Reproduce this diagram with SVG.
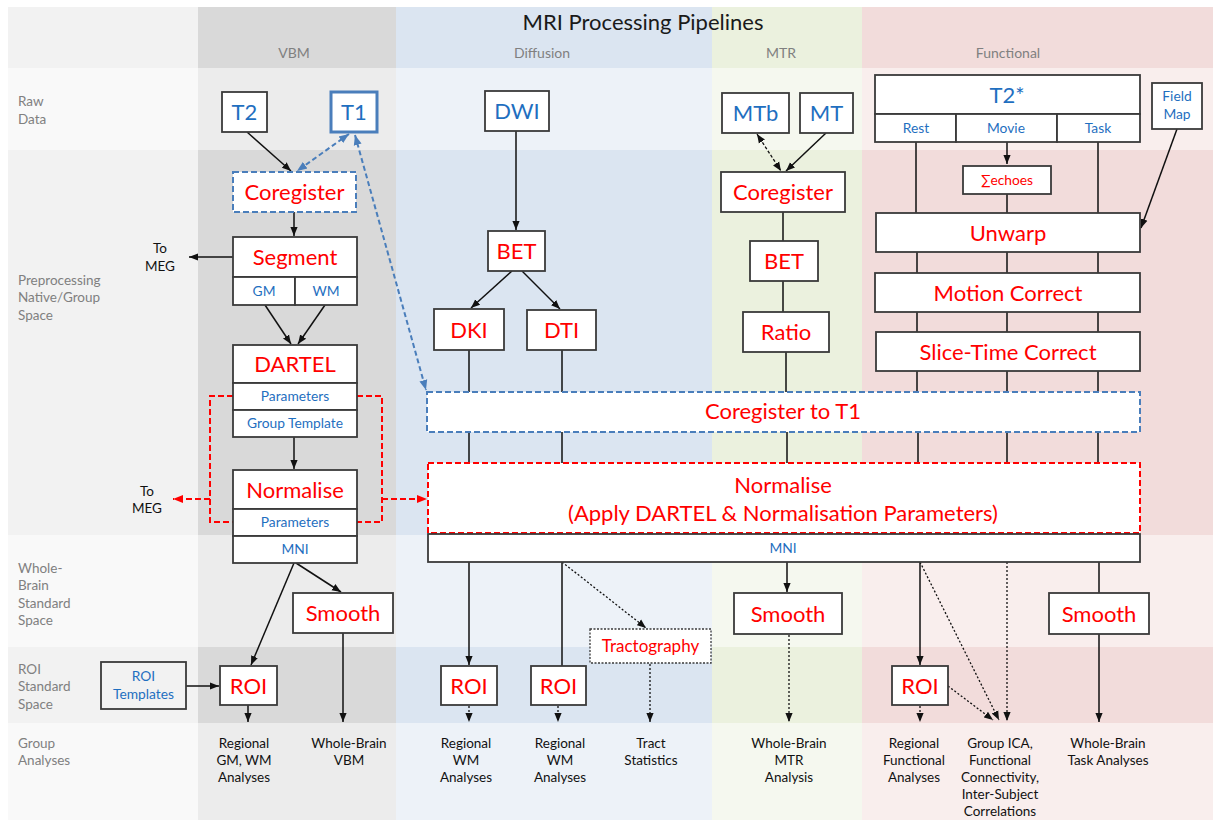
<svg xmlns="http://www.w3.org/2000/svg" width="1213" height="820" viewBox="0 0 1213 820">
<style>
text{font-family:Lato,"Liberation Sans",sans-serif;text-anchor:middle}
.box{fill:#fff;stroke:#3a3a3a;stroke-width:1.8}
.bdash{fill:#fff;stroke:#4a7ebb;stroke-width:2;stroke-dasharray:6 3}
.rdash{fill:#fff;stroke:#ff0000;stroke-width:2;stroke-dasharray:6 3}
.dotbox{fill:#fff;stroke:#3a3a3a;stroke-width:1.3;stroke-dasharray:2 1.5}
.big{font-size:22px;fill:#ff0000}
.bigb{font-size:22px;fill:#1f6fc0}
.sm{font-size:13.8px;fill:#1f6fc0}
.smr{font-size:13.8px;fill:#ff0000}
.ga{font-size:13.5px;fill:#111}
.rl{font-size:13.5px;fill:#808080;text-anchor:start}
.ch{font-size:14px;fill:#808080}
.ln{fill:none;stroke:#111;stroke-width:1.5}
.ar{fill:none;stroke:#111;stroke-width:1.5;marker-end:url(#ak)}
.dt{fill:none;stroke:#111;stroke-width:1.3;stroke-dasharray:2 2;marker-end:url(#ak)}
.lite{fill:#fff;opacity:0.5}
</style>
<defs>
<marker id="ak" viewBox="0 0 10 10" refX="10" refY="5" markerUnits="userSpaceOnUse" markerWidth="9" markerHeight="9" orient="auto-start-reverse"><path d="M0,1 L10,5 L0,9z" fill="#111"/></marker>
<marker id="ab" viewBox="0 0 10 10" refX="10" refY="5" markerUnits="userSpaceOnUse" markerWidth="10" markerHeight="10" orient="auto-start-reverse"><path d="M0,1 L10,5 L0,9z" fill="#4a7ebb"/></marker>
<marker id="ar" viewBox="0 0 10 10" refX="10" refY="5" markerUnits="userSpaceOnUse" markerWidth="10" markerHeight="10" orient="auto-start-reverse"><path d="M0,1 L10,5 L0,9z" fill="#ff0000"/></marker>
</defs>
<rect width="1213" height="820" fill="#fff"/>
<g id="background">
<rect x="8" y="7" width="190" height="813" fill="#f2f2f2"/>
<rect x="198" y="7" width="198" height="813" fill="#d9d9d9"/>
<rect x="396" y="7" width="316" height="813" fill="#dbe5f1"/>
<rect x="712" y="7" width="150" height="813" fill="#ebf1de"/>
<rect x="862" y="7" width="351" height="813" fill="#f2dcdb"/>
<rect class="lite" x="8" y="68" width="1205" height="82"/>
<rect class="lite" x="8" y="535" width="1205" height="112"/>
<rect class="lite" x="8" y="723" width="1205" height="97"/>
</g>
<g id="labels">
<text x="643" y="30" style="font-size:22px;fill:#1a1a1a">MRI Processing Pipelines</text>
<text class="ch" x="294" y="58">VBM</text>
<text class="ch" x="542" y="58">Diffusion</text>
<text class="ch" x="781" y="58">MTR</text>
<text class="ch" x="1008" y="58">Functional</text>
<text class="rl" x="18" y="106">Raw</text>
<text class="rl" x="18" y="123.5">Data</text>
<text class="rl" x="18" y="284.5">Preprocessing</text>
<text class="rl" x="18" y="302">Native/Group</text>
<text class="rl" x="18" y="319.5">Space</text>
<text class="rl" x="18" y="572.5">Whole-</text>
<text class="rl" x="18" y="590">Brain</text>
<text class="rl" x="18" y="607.5">Standard</text>
<text class="rl" x="18" y="625">Space</text>
<text class="rl" x="18" y="673.5">ROI</text>
<text class="rl" x="18" y="691">Standard</text>
<text class="rl" x="18" y="708.5">Space</text>
<text class="rl" x="18" y="747.5">Group</text>
<text class="rl" x="18" y="765">Analyses</text>
<text class="ga" x="160" y="252.5">To</text>
<text class="ga" x="160" y="270.5">MEG</text>
<text class="ga" x="147" y="495.5">To</text>
<text class="ga" x="147" y="512.5">MEG</text>
</g>
<g id="connectors">
<path class="ar" d="M247,132 L291,171"/>
<path class="ar" d="M294,212 L294,236"/>
<path class="ar" d="M233,257 L189,257"/>
<path class="ar" d="M265,305 L291,344"/>
<path class="ar" d="M325,305 L298,344"/>
<path class="ar" d="M294,437 L294,469"/>
<path class="ar" d="M294,563 L251,665"/>
<path class="ar" d="M296,563 L341,592"/>
<path class="ar" d="M186,686 L219,686"/>
<path class="ar" d="M248,705 L248,722"/>
<path class="ar" d="M343,633 L343,722"/>
<path class="ar" d="M516,131 L516,230"/>
<path class="ar" d="M512,271 L471,308"/>
<path class="ar" d="M522,271 L560,309"/>
<path class="ln" d="M469,350 V392 M562,350 V392 M469,432 V463 M562,432 V463 M787,432 V463 M918,432 V463 M1007,432 V463 M1098,432 V463"/>
<path class="ln" d="M786,352 V392 M783,212 V241 M783,281 V312"/>
<path class="ar" d="M826,133 L786,171"/>
<path fill="none" stroke="#111" stroke-width="1.3" stroke-dasharray="3 2" marker-start="url(#ak)" marker-end="url(#ak)" d="M757,134 L781,171"/>
<path class="ar" d="M469,562 L469,665"/>
<path class="ln" d="M562,562 L562,666"/>
<path class="ar" d="M787,562 L787,592"/>
<path class="ln" d="M916,142 V213 M1098,142 V213 M1007,194 V213"/>
<path class="ar" d="M1007,142 L1007,164"/>
<path class="ar" d="M1177,129 L1141,228"/>
<path class="ln" d="M917,252 V273 M1007,252 V273 M1098,252 V273 M917,312 V332 M1007,312 V332 M1098,312 V332 M917,371 V392 M1007,371 V392 M1098,371 V392"/>
<path class="ar" d="M920,562 L920,665"/>
<path class="ln" d="M1099,562 V593"/>
<path class="ar" d="M1099,634 L1099,722"/>
<path class="dt" d="M562,562 L646,628"/>
<path class="dt" d="M469,706 L469,722"/>
<path class="dt" d="M558,706 L558,722"/>
<path class="dt" d="M650,664 L650,722"/>
<path class="dt" d="M789,635 L789,722"/>
<path class="dt" d="M920,562 L999,720"/>
<path class="dt" d="M1007,562 L1007,721"/>
<path class="dt" d="M948,686 L993,720"/>
<path class="dt" d="M920,706 L920,722"/>
<path fill="none" stroke="#4a7ebb" stroke-width="2" stroke-dasharray="5 3" marker-start="url(#ab)" marker-end="url(#ab)" d="M349,134 L297,171"/>
<path fill="none" stroke="#4a7ebb" stroke-width="2" stroke-dasharray="5 3" marker-start="url(#ab)" marker-end="url(#ab)" d="M355,135 L426,390"/>
<path fill="none" stroke="#ff0000" stroke-width="2" stroke-dasharray="6 3" d="M233,396 H210 V522 H233 M357,396 H382 V522 H357"/>
<path fill="none" stroke="#ff0000" stroke-width="2" stroke-dasharray="6 3" marker-end="url(#ar)" d="M210,499 H173"/>
<path fill="none" stroke="#ff0000" stroke-width="2" stroke-dasharray="6 3" marker-end="url(#ar)" d="M382,499 H427"/>
</g>
<g id="vbm-t2"><rect class="box" x="222" y="92" width="45" height="40"/><text class="bigb" x="244.5" y="120">T2</text></g>
<g id="vbm-t1"><rect x="331" y="92" width="46" height="40" fill="#fff" stroke="#4a7ebb" stroke-width="3"/><text class="bigb" x="354" y="120">T1</text></g>
<g id="vbm-coregister"><rect class="bdash" x="233" y="172" width="123" height="40"/><text class="big" x="294.5" y="200">Coregister</text></g>
<g id="vbm-segment"><rect class="box" x="233" y="237" width="124" height="40"/><text class="big" x="295" y="265">Segment</text>
<rect class="box" x="233" y="277" width="62" height="28"/><rect class="box" x="295" y="277" width="62" height="28"/>
<text class="sm" x="264" y="295.5">GM</text><text class="sm" x="326" y="295.5">WM</text></g>
<g id="vbm-dartel"><rect class="box" x="233" y="345" width="124" height="38"/><text class="big" x="295" y="372">DARTEL</text>
<rect class="box" x="233" y="383" width="124" height="27"/><text class="sm" x="295" y="401">Parameters</text>
<rect class="box" x="233" y="410" width="124" height="27"/><text class="sm" x="295" y="428">Group Template</text></g>
<g id="vbm-normalise"><rect class="box" x="233" y="470" width="124" height="39"/><text class="big" x="295" y="497.5">Normalise</text>
<rect class="box" x="233" y="509" width="124" height="27"/><text class="sm" x="295" y="527">Parameters</text>
<rect class="box" x="233" y="536" width="124" height="27"/><text class="sm" x="295" y="554">MNI</text></g>
<g id="vbm-smooth"><rect class="box" x="293" y="593" width="100" height="40"/><text class="big" x="343" y="621">Smooth</text></g>
<g id="vbm-roi"><rect class="box" x="220" y="666" width="57" height="39"/><text class="big" x="248.5" y="693.5">ROI</text></g>
<g id="roi-templates"><rect x="101" y="662" width="85" height="47" fill="#f2f2f2" stroke="#3a3a3a" stroke-width="1.8"/><text class="sm" x="143.5" y="680.5">ROI</text><text class="sm" x="143.5" y="698.5">Templates</text></g>
<g id="vbm-out1"><text class="ga" x="244" y="747.5">Regional</text><text class="ga" x="244" y="764.7">GM, WM</text><text class="ga" x="244" y="781.9">Analyses</text></g>
<g id="vbm-out2"><text class="ga" x="349" y="747.5">Whole-Brain</text><text class="ga" x="349" y="764.7">VBM</text></g>
<g id="dwi"><rect class="box" x="485" y="91" width="64" height="40"/><text class="bigb" x="517" y="119">DWI</text></g>
<g id="dif-bet"><rect class="box" x="488" y="231" width="57" height="40"/><text class="big" x="516.5" y="259">BET</text></g>
<g id="dki"><rect class="box" x="434" y="309" width="70" height="41"/><text class="big" x="469" y="337.5">DKI</text></g>
<g id="dti"><rect class="box" x="527" y="310" width="69" height="40"/><text class="big" x="561.5" y="338">DTI</text></g>
<g id="coreg-t1"><rect class="bdash" x="427" y="392" width="713" height="40"/><text class="big" x="783" y="419">Coregister to T1</text></g>
<g id="normalise-all"><rect class="rdash" x="428" y="463" width="712" height="70"/><text class="big" x="783" y="493">Normalise</text><text class="big" x="783" y="521">(Apply DARTEL &amp; Normalisation Parameters)</text>
<rect class="box" x="428" y="534" width="712" height="28"/><text class="sm" x="783" y="552.5">MNI</text></g>
<g id="dif-roi1"><rect class="box" x="441" y="666" width="56" height="39"/><text class="big" x="469" y="693.5">ROI</text></g>
<g id="dif-roi2"><rect class="box" x="531" y="666" width="55" height="39"/><text class="big" x="558.5" y="693.5">ROI</text></g>
<g id="tractography"><rect class="dotbox" x="590" y="629" width="121" height="34"/><text x="650.5" y="652" style="font-size:17px;fill:#ff0000">Tractography</text></g>
<g id="dif-out1"><text class="ga" x="466" y="747.5">Regional</text><text class="ga" x="466" y="764.7">WM</text><text class="ga" x="466" y="781.9">Analyses</text></g>
<g id="dif-out2"><text class="ga" x="560" y="747.5">Regional</text><text class="ga" x="560" y="764.7">WM</text><text class="ga" x="560" y="781.9">Analyses</text></g>
<g id="dif-out3"><text class="ga" x="651" y="747.5">Tract</text><text class="ga" x="651" y="764.7">Statistics</text></g>
<g id="mtb"><rect class="box" x="722" y="93" width="67" height="40"/><text class="bigb" x="755.5" y="121">MTb</text></g>
<g id="mt"><rect class="box" x="800" y="93" width="53" height="40"/><text class="bigb" x="826.5" y="121">MT</text></g>
<g id="mtr-coregister"><rect class="box" x="721" y="172" width="124" height="40"/><text class="big" x="783" y="200">Coregister</text></g>
<g id="mtr-bet"><rect class="box" x="750" y="241" width="68" height="40"/><text class="big" x="784" y="269">BET</text></g>
<g id="ratio"><rect class="box" x="743" y="312" width="86" height="40"/><text class="big" x="786" y="340">Ratio</text></g>
<g id="mtr-smooth"><rect class="box" x="734" y="593" width="108" height="41"/><text class="big" x="788" y="621.5">Smooth</text></g>
<g id="mtr-out"><text class="ga" x="789" y="747.5">Whole-Brain</text><text class="ga" x="789" y="764.7">MTR</text><text class="ga" x="789" y="781.9">Analysis</text></g>
<g id="t2star"><rect class="box" x="875" y="75" width="265" height="39"/><text class="bigb" x="1007" y="102.5">T2*</text>
<rect class="box" x="875" y="114" width="81" height="28"/><rect class="box" x="956" y="114" width="101" height="28"/><rect class="box" x="1057" y="114" width="83" height="28"/>
<text class="sm" x="916" y="132.5">Rest</text><text class="sm" x="1006" y="132.5">Movie</text><text class="sm" x="1098" y="132.5">Task</text></g>
<g id="fieldmap"><rect class="box" x="1152" y="83" width="50" height="46"/><text class="sm" x="1177" y="100.5">Field</text><text class="sm" x="1177" y="118.5">Map</text></g>
<g id="echoes"><rect class="box" x="963" y="166" width="88" height="28"/><text class="smr" x="1007" y="184.5">∑echoes</text></g>
<g id="unwarp"><rect class="box" x="876" y="213" width="264" height="39"/><text class="big" x="1008" y="241">Unwarp</text></g>
<g id="motion"><rect class="box" x="875" y="273" width="265" height="39"/><text class="big" x="1008" y="300.5">Motion Correct</text></g>
<g id="slicetime"><rect class="box" x="876" y="332" width="264" height="39"/><text class="big" x="1008" y="360">Slice-Time Correct</text></g>
<g id="fun-roi"><rect class="box" x="892" y="666" width="56" height="39"/><text class="big" x="920" y="693.5">ROI</text></g>
<g id="fun-smooth"><rect class="box" x="1049" y="593" width="100" height="41"/><text class="big" x="1099" y="621.5">Smooth</text></g>
<g id="fun-out1"><text class="ga" x="914" y="747.5">Regional</text><text class="ga" x="914" y="764.7">Functional</text><text class="ga" x="914" y="781.9">Analyses</text></g>
<g id="fun-out2"><text class="ga" x="1000" y="747.5">Group ICA,</text><text class="ga" x="1000" y="764.7">Functional</text><text class="ga" x="1000" y="781.9">Connectivity,</text><text class="ga" x="1000" y="799.1">Inter-Subject</text><text class="ga" x="1000" y="816.3">Correlations</text></g>
<g id="fun-out3"><text class="ga" x="1108" y="747.5">Whole-Brain</text><text class="ga" x="1108" y="764.7">Task Analyses</text></g>
</svg>
